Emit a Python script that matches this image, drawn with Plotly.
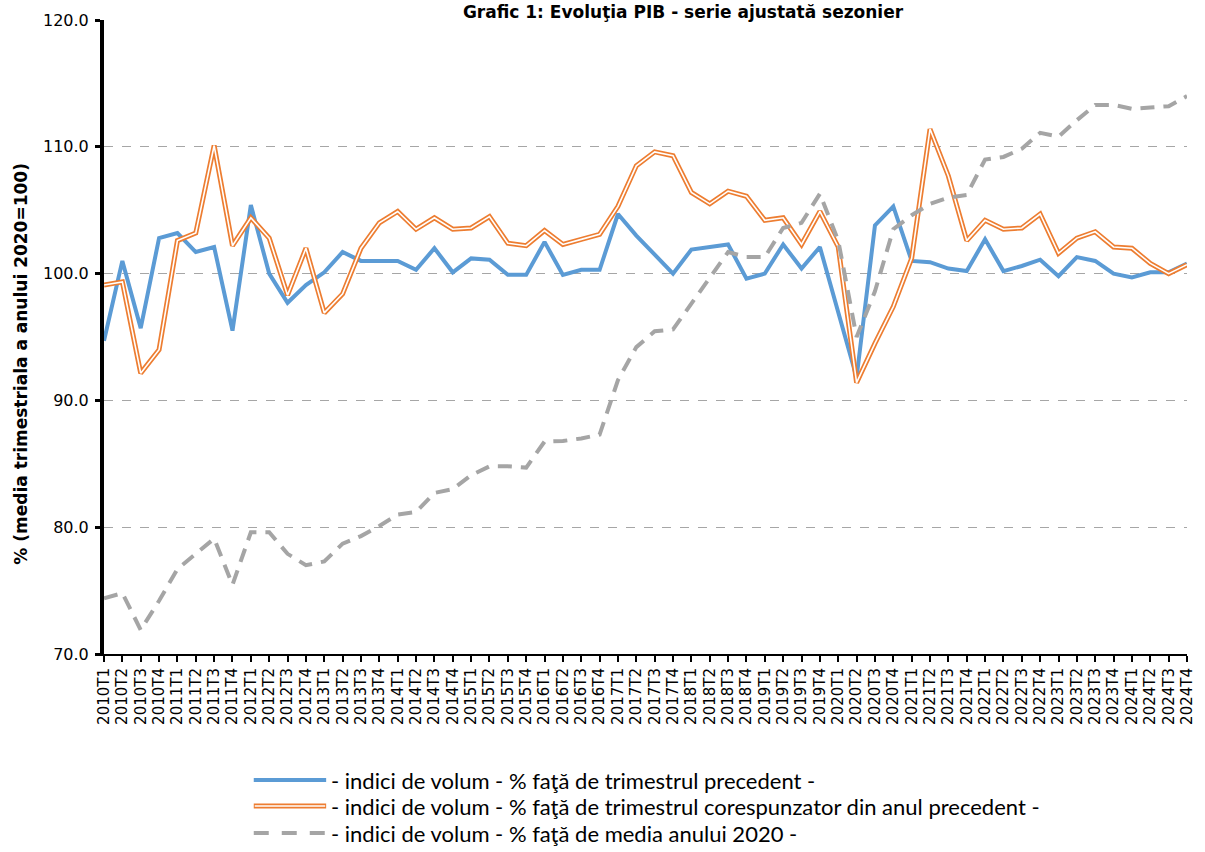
import plotly.graph_objects as go

quarters = [f"{y}T{q}" for y in range(2010, 2025) for q in range(1, 5)]

prev_quarter = [94.7, 101.0, 95.7, 102.8, 103.2, 101.7, 102.1, 95.5, 105.4, 100.0,
                97.7, 99.1, 100.1, 101.7, 101.0, 101.0, 101.0, 100.3, 102.0, 100.1,
                101.2, 101.1, 99.9, 99.9, 102.5, 99.9, 100.3, 100.3, 104.7, 103.0,
                101.5, 100.0, 101.9, 102.1, 102.3, 99.6, 100.0, 102.3, 100.4, 102.1,
                96.8, 91.8, 103.8, 105.3, 101.0, 100.9, 100.4, 100.2, 102.7, 100.2,
                100.6, 101.1, 99.8, 101.3, 101.0, 100.0, 99.7, 100.1, 100.1, 100.8]

same_quarter_prev_year = [99.1, 99.35, 92.15, 94.0, 102.6, 103.2, 110.1, 102.2, 104.4, 102.8,
                          98.3, 102.0, 96.9, 98.4, 102.0, 104.0, 104.9, 103.5, 104.4, 103.5,
                          103.6, 104.5, 102.4, 102.2, 103.4, 102.3, 102.7, 103.1, 105.3, 108.5,
                          109.6, 109.3, 106.4, 105.5, 106.5, 106.1, 104.2, 104.4, 102.3, 104.9,
                          102.1, 91.4, 94.5, 97.4, 101.2, 111.4, 107.7, 102.6, 104.2, 103.5,
                          103.6, 104.7, 101.6, 102.8, 103.3, 102.1, 102.0, 100.8, 100.0, 100.7]

vs_2020_mean = [74.4, 74.8, 71.9, 74.2, 76.7, 77.9, 79.1, 75.45, 79.6, 79.6,
                77.9, 77.0, 77.3, 78.7, 79.3, 80.1, 81.0, 81.2, 82.7, 83.0,
                84.1, 84.8, 84.8, 84.7, 86.75, 86.8, 87.0, 87.3, 91.6, 94.2,
                95.45, 95.6, 97.65, 99.6, 101.7, 101.3, 101.3, 103.6, 104.0, 106.3,
                102.6, 95.0, 98.6, 103.5, 104.6, 105.5, 106.0, 106.2, 109.0, 109.2,
                109.85, 111.1, 110.8, 112.1, 113.3, 113.3, 113.0, 113.1, 113.2, 114.0]

legend_labels = [
    "- indici de volum - % faţă de trimestrul precedent -",
    "- indici de volum - % faţă de trimestrul corespunzator din anul precedent -",
    "- indici de volum - % faţă de media anului 2020 -",
]

BLUE = "#5B9BD5"
ORANGE = "#ED7D31"
GRAY = "#A5A5A5"

fig = go.Figure()
fig.add_trace(go.Scatter(x=quarters, y=prev_quarter, mode="lines",
                         line=dict(color=BLUE, width=4), showlegend=False,
                         name=legend_labels[0]))
fig.add_trace(go.Scatter(x=quarters, y=same_quarter_prev_year, mode="lines",
                         line=dict(color=ORANGE, width=5), showlegend=False,
                         name=legend_labels[1]))
fig.add_trace(go.Scatter(x=quarters, y=same_quarter_prev_year, mode="lines",
                         line=dict(color="white", width=1.6), showlegend=False,
                         hoverinfo="skip"))
fig.add_trace(go.Scatter(x=quarters, y=vs_2020_mean, mode="lines",
                         line=dict(color=GRAY, width=4, dash="14px,9px"), showlegend=False,
                         name=legend_labels[2]))

L, R, T, B = 104, 9, 20, 198
W, H = 1205, 852
pw = W - L - R
ph = H - T - B

def px(x):
    return (x - L) / pw

def py(y):
    return (H - B - y) / ph

legend_rows = [780, 806, 833]
shapes = []
shapes.append(dict(type="line", xref="paper", yref="paper", x0=px(255), x1=px(328),
                   y0=py(legend_rows[0]), y1=py(legend_rows[0]),
                   line=dict(color=BLUE, width=4)))
shapes.append(dict(type="line", xref="paper", yref="paper", x0=px(255), x1=px(328),
                   y0=py(legend_rows[1]), y1=py(legend_rows[1]),
                   line=dict(color=ORANGE, width=5)))
shapes.append(dict(type="line", xref="paper", yref="paper", x0=px(256), x1=px(327),
                   y0=py(legend_rows[1]), y1=py(legend_rows[1]),
                   line=dict(color="white", width=1.6)))
shapes.append(dict(type="line", xref="paper", yref="paper", x0=px(255), x1=px(328),
                   y0=py(legend_rows[2]), y1=py(legend_rows[2]),
                   line=dict(color=GRAY, width=4, dash="15px,13px")))

annotations = []
for lab, yy in zip(legend_labels, legend_rows):
    annotations.append(dict(text=lab, xref="paper", yref="paper", x=px(331), y=py(yy),
                            xanchor="left", yanchor="middle", showarrow=False,
                            font=dict(family="Lato", size=22, color="#000000")))

annotations.append(dict(text="<b>% (media trimestriala a anului 2020=100)</b>",
                        xref="paper", yref="paper", x=px(20), y=py(364),
                        xanchor="center", yanchor="middle", textangle=-90,
                        showarrow=False,
                        font=dict(family="DejaVu Sans", size=17, color="#000000")))

fig.update_layout(
    width=W, height=H,
    margin=dict(l=L, r=R, t=T, b=B),
    paper_bgcolor="white", plot_bgcolor="white",
    title=dict(text="<b>Grafic 1: Evoluţia PIB - serie ajustată sezonier</b>",
               x=683 / W, xanchor="center", y=1 - 12 / H, yanchor="middle",
               yref="container",
               font=dict(family="DejaVu Sans", size=17, color="#000000")),
    shapes=shapes,
    annotations=annotations,
    showlegend=False,
)

fig.update_xaxes(type="category", categoryorder="array", categoryarray=quarters,
                 range=[0, 59], tickangle=-90, showgrid=False,
                 tickmode="linear", tick0=0, dtick=1,
                 showline=True, linecolor="#000000", linewidth=2,
                 ticks="outside", ticklen=6, tickwidth=2, tickcolor="#000000",
                 tickfont=dict(family="DejaVu Sans", size=15, color="#000000"),
                 zeroline=False)
fig.update_yaxes(range=[70, 120], dtick=10, tick0=70, tickformat=".1f",
                 showgrid=True, gridcolor="#A6A6A6", gridwidth=1, griddash="dash",
                 showline=True, linecolor="#000000", linewidth=4,
                 ticks="outside", ticklen=5, tickwidth=3, tickcolor="#000000",
                 ticklabelstandoff=3,
                 tickfont=dict(family="DejaVu Sans", size=16, color="#000000"),
                 zeroline=False)

fig.write_html("out.html", config={"displayModeBar": False},
               post_script="document.body.style.margin='0';")
